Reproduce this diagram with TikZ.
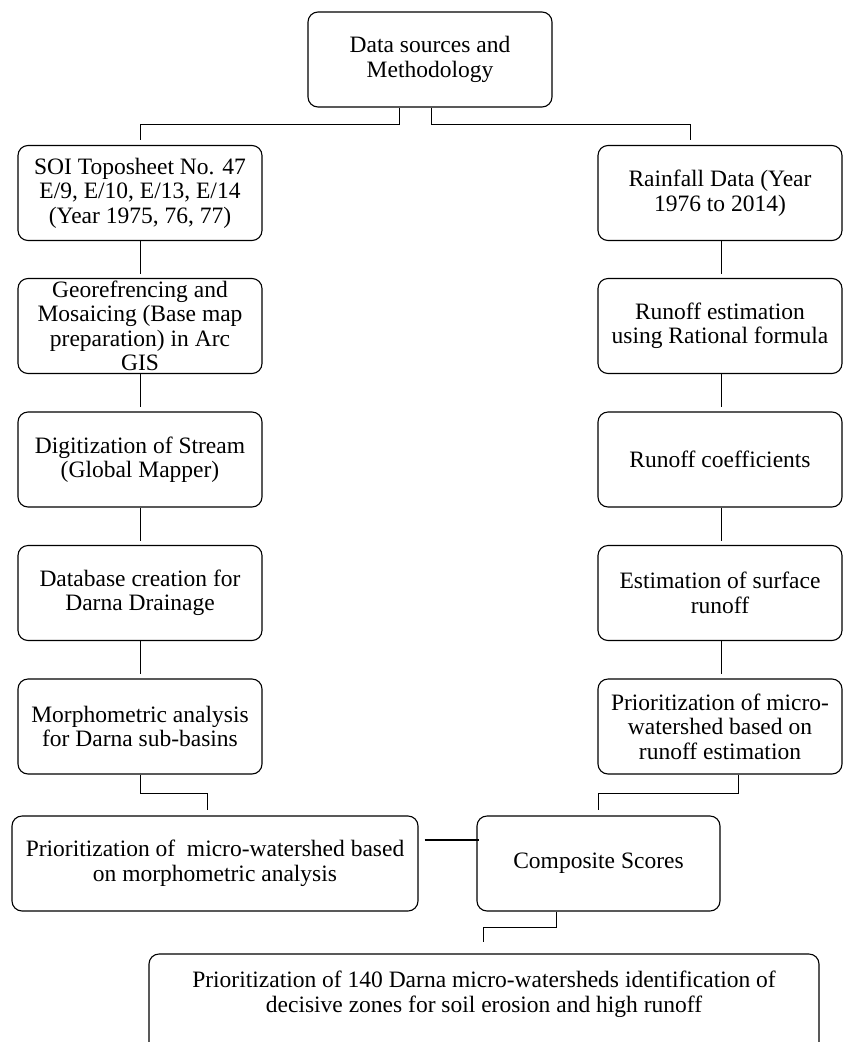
\documentclass[tikz,border=0pt]{standalone}
\usepackage{fontspec}
\setmainfont{Liberation Serif}
\begin{document}
\begin{tikzpicture}[x=1pt,y=-1pt,
  box/.style={draw=black, line width=1.1pt, rounded corners=10pt, align=center,
    inner sep=0pt, minimum width=244pt, minimum height=95pt,
    font=\fontsize{23.5}{24.5}\selectfont},
  conn/.style={draw=black, line width=1pt},
  thickconn/.style={draw=black, line width=2.2pt}]
\useasboundingbox (0,0) rectangle (843,1042);
\clip (0,0) rectangle (843,1042);
\fill[white] (0,0) rectangle (843,1042);

\node[box] (top) at (430,59.5) {Data sources and\\Methodology};
\node[box] (L1) at (140,193) {SOI Toposheet No. 47\\E/9, E/10, E/13, E/14\\(Year 1975, 76, 77)};
\node[box] (R1) at (720,193) {Rainfall Data (Year\\1976 to 2014)};
\node[box] (L2) at (140,326) {Georefrencing and\\Mosaicing (Base map\\preparation) in Arc\\GIS};
\node[box] (R2) at (720,326) {Runoff estimation\\using Rational formula};
\node[box] (L3) at (140,459.5) {Digitization of Stream\\(Global Mapper)};
\node[box] (R3) at (720,459.5) {Runoff coefficients};
\node[box] (L4) at (140,593) {Database creation for\\Darna Drainage};
\node[box] (R4) at (720,593) {Estimation of surface\\runoff};
\node[box] (L5) at (140,726.5) {Morphometric analysis\\for Darna sub-basins};
\node[box] (R5) at (720,726.5) {Prioritization of micro-\\watershed based on\\runoff estimation};
\node[box, minimum width=406pt] (PM) at (215,863.5) {Prioritization of\ \ micro-watershed based\\on morphometric analysis};
\node[box, minimum width=243pt] (CS) at (598.5,863.5) {Composite Scores};
\node[box, minimum width=670pt, minimum height=110pt] (bot) at (484,1009) {};
\node[align=center, inner sep=0pt, font=\fontsize{23.5}{24.5}\selectfont] (bottxt) at (484,994)
  {Prioritization of 140 Darna micro-watersheds identification of\\decisive zones for soil erosion and high runoff};

% top split
\draw[conn] ([xshift=-31pt]top.south) -- ++(0,-17pt) -| ([yshift=5pt]L1.north);
\draw[conn] ([xshift=1pt]top.south) -- ++(0,-17pt) -| ([xshift=-30pt,yshift=5pt]R1.north);

% left chain
\draw[conn] (L1.south) -- ([yshift=4pt]L2.north);
\draw[conn] (L2.south) -- ([yshift=4pt]L3.north);
\draw[conn] (L3.south) -- ([yshift=4pt]L4.north);
\draw[conn] (L4.south) -- ([yshift=4pt]L5.north);

% right chain
\draw[conn] ([xshift=1pt]R1.south) -- ([xshift=1pt,yshift=4pt]R2.north);
\draw[conn] ([xshift=1pt]R2.south) -- ([xshift=1pt,yshift=4pt]R3.north);
\draw[conn] ([xshift=1pt]R3.south) -- ([xshift=1pt,yshift=4pt]R4.north);
\draw[conn] ([xshift=1pt]R4.south) -- ([xshift=1pt,yshift=4pt]R5.north);

% merge
\draw[conn] (L5.south) -- ++(0,-19pt) -| ([xshift=-8pt,yshift=5pt]PM.north);
\draw[conn] ([xshift=18pt]R5.south) -- ++(0,-19pt) -| ([yshift=5pt]CS.north);
\draw[thickconn] ([xshift=6pt,yshift=23.5pt]PM.east) -- ([xshift=3pt,yshift=23.5pt]CS.west);
\draw[conn] ([xshift=-42.5pt]CS.south) -- ++(0,-16pt) -| ([xshift=-1pt,yshift=11pt]bot.north);
\end{tikzpicture}
\end{document}
